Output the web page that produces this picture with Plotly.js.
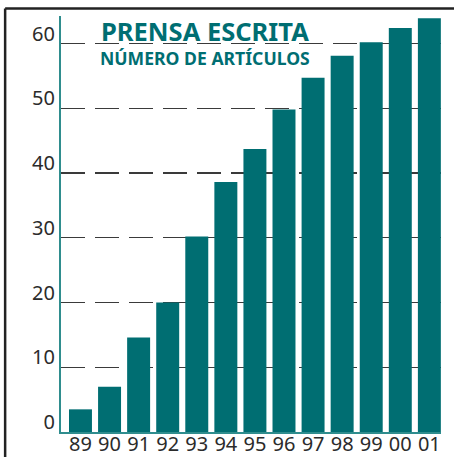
<!DOCTYPE html>
<html>
<head>
<meta charset="utf-8">
<script src="https://cdn.plot.ly/plotly-3.0.1.min.js"></script>
<style>html,body{margin:0;padding:0;background:#fff;}#chart{width:454px;height:457px;}</style>
</head>
<body>
<div id="chart"></div>
<script>
const years = ["89","90","91","92","93","94","95","96","97","98","99","00","01"];
const articles = [3.5, 7.0, 14.6, 20.0, 30.2, 38.6, 43.7, 49.8, 54.7, 58.1, 60.2, 62.4, 63.9];
const yTicks = [0, 10, 20, 30, 40, 50, 60];
const titleText = "PRENSA ESCRITA";
const subtitleText = "NÚMERO DE ARTÍCULOS";

const teal = "#006e72";
const trace = {
  type: "bar",
  x: years,
  y: articles,
  marker: {color: teal, line: {width: 0}},
  hoverinfo: "none"
};

const layout = {
  width: 454, height: 457,
  margin: {l: 61, r: 13, t: 16, b: 25, pad: 0},
  paper_bgcolor: "#fff", plot_bgcolor: "#fff",
  showlegend: false,
  bargap: 0.21,
  font: {family: "Noto Sans, Open Sans, sans-serif", color: "#2b2b2b", size: 20},
  xaxis: {
    type: "category",
    range: [-0.67, 12.4],
    showgrid: false, zeroline: false,
    showline: true, linecolor: "#2f8d8e", linewidth: 2,
    ticks: "", ticklabelstandoff: -7,
    tickfont: {size: 20, color: "#2b2b2b"},
    fixedrange: true
  },
  yaxis: {
    range: [0, 64.25],
    tickvals: yTicks, ticktext: yTicks.map(String),
    showgrid: true, gridcolor: "#3a3a3a", gridwidth: 1.2, griddash: "24px,10px",
    zeroline: false,
    showline: true, linecolor: "#2f8d8e", linewidth: 2,
    ticks: "", ticklabelposition: "outside top", ticklabelshift: 4,
    tickfont: {size: 20, color: "#2b2b2b"},
    fixedrange: true
  },
  annotations: [
    {text: "<b>" + titleText + "</b>", xref: "paper", yref: "paper", x: 0.378, y: 0.963,
     xanchor: "center", yanchor: "middle", showarrow: false,
     font: {family: "Noto Sans, sans-serif", size: 25.5, color: teal}},
    {text: "<b>" + subtitleText + "</b>", xref: "paper", yref: "paper", x: 0.378, y: 0.898,
     xanchor: "center", yanchor: "middle", showarrow: false,
     font: {family: "Noto Sans, sans-serif", size: 17.6, color: teal}}
  ],
  shapes: [
    {type: "line", xref: "paper", yref: "paper", x0: -0.147, x1: 1.2, y0: 1.018, y1: 1.018,
     line: {color: "#222", width: 2.5}},
    {type: "line", xref: "paper", yref: "paper", x0: -0.147, x1: -0.147, y0: 1.018, y1: -0.2,
     line: {color: "#222", width: 2.5}}
  ]
};

Plotly.newPlot("chart", [trace], layout, {staticPlot: true, displayModeBar: false});
</script>
</body>
</html>
